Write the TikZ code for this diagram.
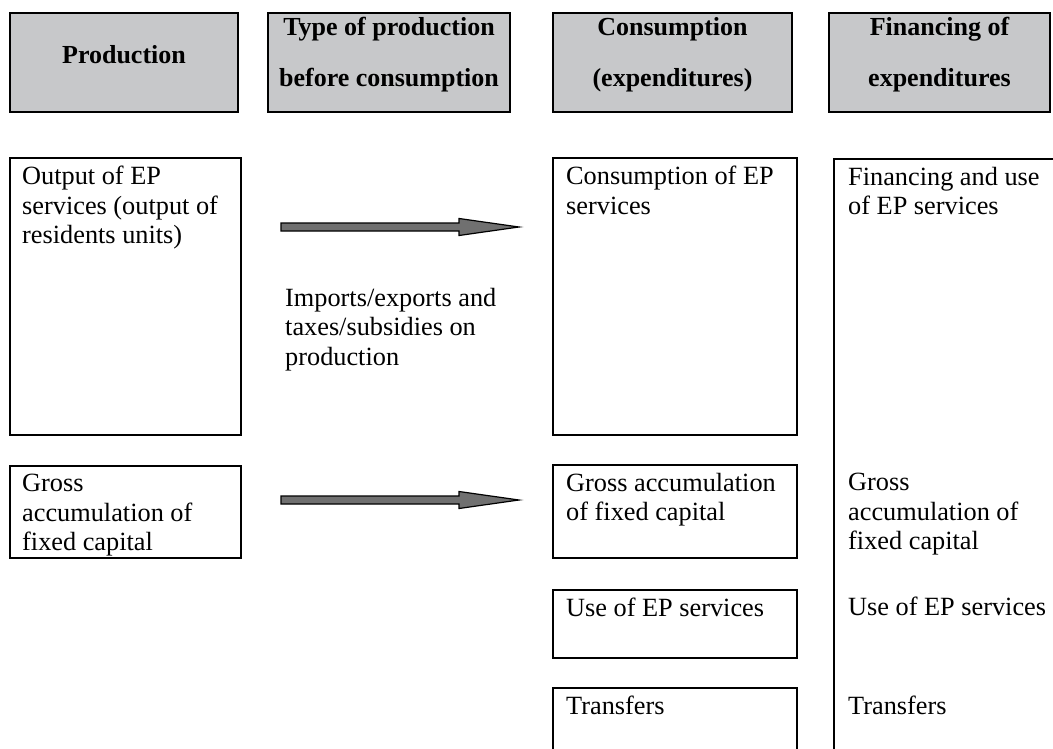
\documentclass[tikz,border=0pt]{standalone}
\usepackage{fontspec}
\setmainfont{Liberation Serif}
\usetikzlibrary{positioning,calc}
\definecolor{headgray}{RGB}{199,200,202}
\definecolor{arrowgray}{RGB}{112,112,112}
\tikzset{head/.style={rectangle,draw,line width=2pt,fill=headgray,minimum height=99pt,inner sep=0pt,outer sep=0pt},
  headtxt/.style={font=\fontsize{26}{51}\selectfont\bfseries,align=center,yshift=8pt},
  box/.style={rectangle,draw,line width=2pt,anchor=north west,inner sep=0pt,outer sep=0pt},
  txt/.style={align=left,inner sep=0pt,font=\fontsize{26.3}{29.5}\selectfont},
  fatarrow/.style={draw=black,line width=1.2pt,fill=arrowgray,
    to path={let \p1=($(\tikztotarget)-(\tikztostart)$) in
      ([yshift=4pt]\tikztostart) -- ++(\x1-60pt,0pt) -- ++(0pt,4.5pt) -- (\tikztotarget)
      -- ++(-60pt,-8.5pt) -- ++(0pt,4.5pt) -- ([yshift=-4pt]\tikztostart) -- cycle}}}

\begin{document}
\begin{tikzpicture}[x=1pt,y=-1pt]
    \useasboundingbox (0,0) rectangle (1053,749);

    \node[head,minimum width=228pt,label={[headtxt]center:Production}] (hprod) at (124,62.5) {};
    \node[head,minimum width=242pt,label={[headtxt]center:Type of production\\before consumption}] (htype) at (389,62.5) {};
    \node[head,minimum width=239pt,label={[headtxt]center:Consumption\\(expenditures)}] (hcons) at (672.5,62.5) {};
    \node[head,minimum width=221pt,label={[headtxt]center:Financing of\\expenditures}] (hfin) at (939.5,62.5) {};

    \node[box,minimum width=231pt,minimum height=277pt] (outep) at (10,158) {};
    \node[box,minimum width=244pt,minimum height=277pt] (consep) at (553,158) {};
    \node[box,minimum width=300pt,minimum height=700pt] (fincol) at (834,159) {};
    \node[box,minimum width=231pt,minimum height=92pt] (grossl) at (10,466) {};
    \node[box,minimum width=244pt,minimum height=93pt] (grossc) at (553,465) {};
    \node[box,minimum width=244pt,minimum height=68pt] (usec) at (553,590) {};
    \node[box,minimum width=244pt,minimum height=100pt] (transc) at (553,688) {};

    \node[txt,below right=8pt and 12pt of outep.north west] (outeptxt) {Output of EP\\services (output of\\residents units)};
    \node[txt,below right=8pt and 13pt of consep.north west] (conseptxt) {Consumption of EP\\services};
    \node[txt,below right=8pt and 14pt of fincol.north west] (fineptxt) {Financing and use\\of EP services};
    \node[txt,below right=8pt and 12pt of grossl.north west] (grossltxt) {Gross\\accumulation of\\fixed capital};
    \node[txt,below right=8pt and 13pt of grossc.north west] (grossctxt) {Gross accumulation\\of fixed capital};
    \node[txt,below right=8pt and 13pt of usec.north west] (usectxt) {Use of EP services};
    \node[txt,below right=8pt and 13pt of transc.north west] (transctxt) {Transfers};
    \node[txt,anchor=north west] (grossrtxt) at ([shift={(14,8)}]fincol.west |- grossc.north) {Gross\\accumulation of\\fixed capital};
    \node[txt,anchor=north west] (usertxt) at ([shift={(14,7)}]fincol.west |- usec.north) {Use of EP services};
    \node[txt,anchor=north west] (transrtxt) at ([shift={(14,8)}]fincol.west |- transc.north) {Transfers};
    \node[txt,anchor=north west] (imptxt) at (285,288) {Imports/exports and\\taxes/subsidies on\\production};

    \coordinate (a1s) at (281,227);
    \coordinate (a1e) at (519,227);
    \coordinate (a2s) at (281,500);
    \coordinate (a2e) at (519,500);
    \draw[fatarrow] (a1s) to (a1e);
    \draw[fatarrow] (a2s) to (a2e);
\end{tikzpicture}
\end{document}
